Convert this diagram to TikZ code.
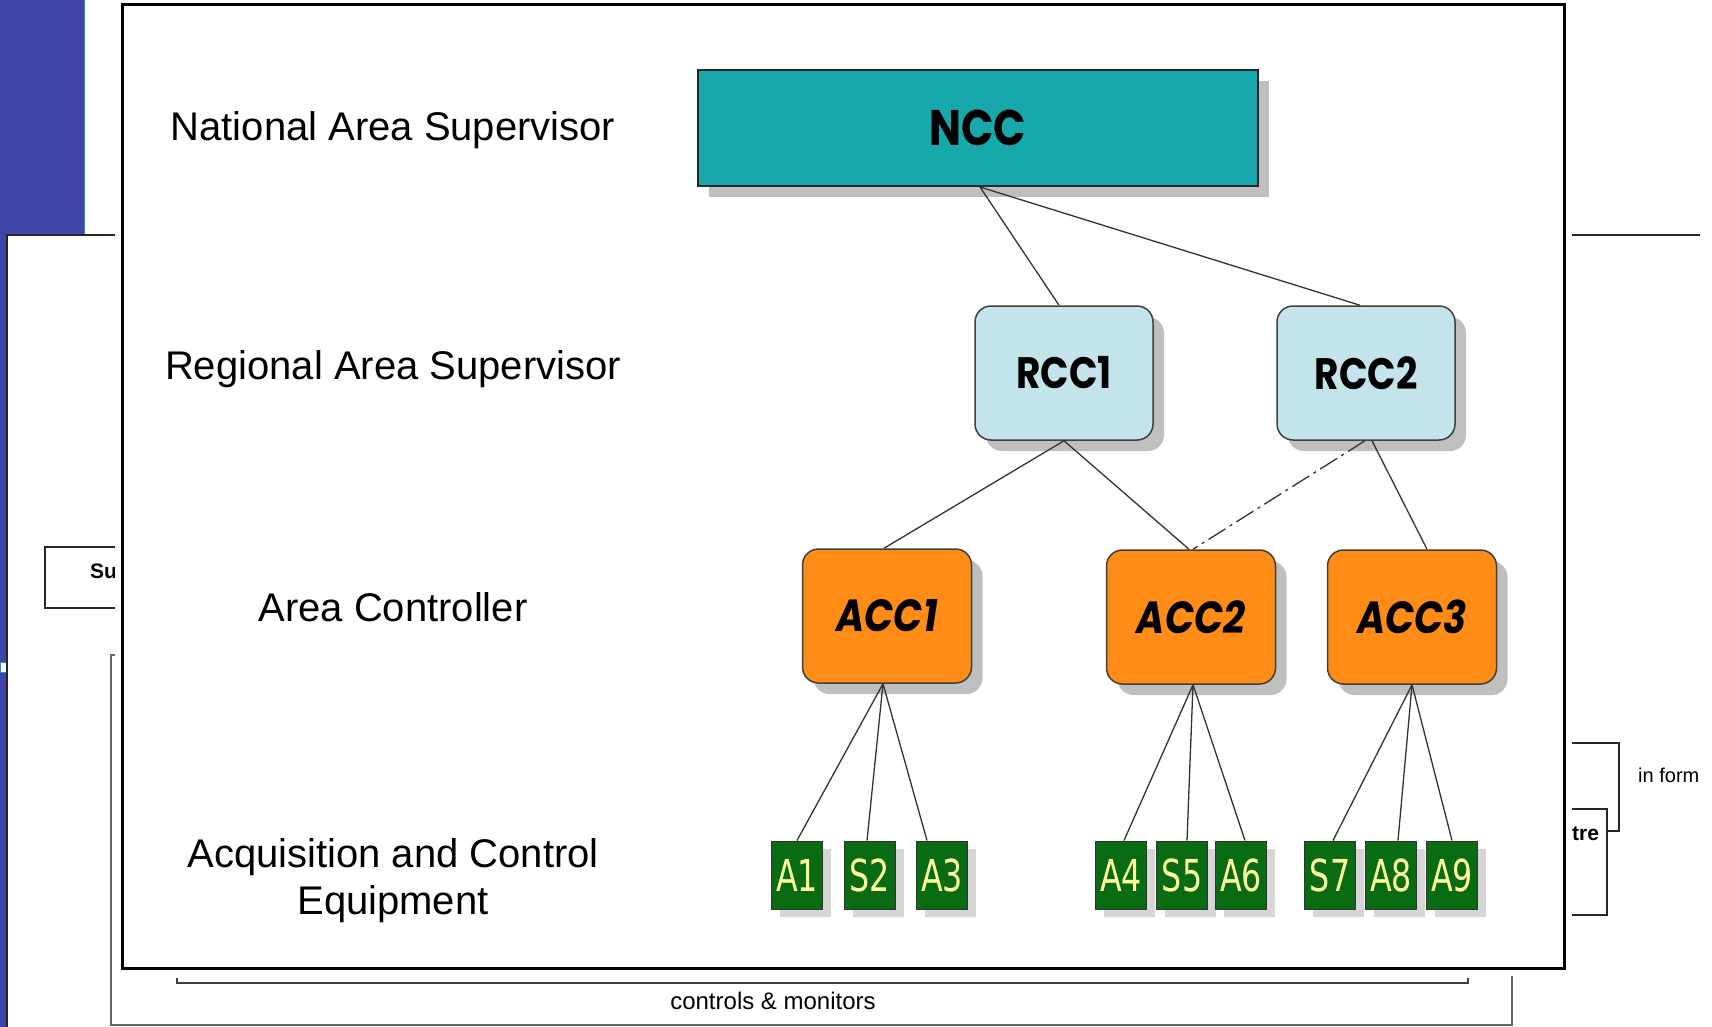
\documentclass[tikz,border=0pt]{standalone}
\usepackage{fontspec}
\setmainfont{Liberation Sans}
\newfontfamily\boxfont{Poppins}[FakeStretch=0.85]
\newfontfamily\tagfont{DejaVu Sans}[FakeStretch=0.72]
\usetikzlibrary{shadows}

\definecolor{slideblue}{RGB}{64,70,168}
\definecolor{slideedge}{RGB}{40,140,220}
\definecolor{nccteal}{RGB}{22,168,170}
\definecolor{rccblue}{RGB}{196,228,236}
\definecolor{accorange}{RGB}{255,140,22}
\definecolor{eqgreen}{RGB}{10,108,18}
\definecolor{eqtext}{RGB}{255,255,160}

\begin{document}
\begin{tikzpicture}[x=1pt,y=-1pt,
  conn/.style={draw=black!80, line width=1.3pt},
  shadowed/.style={drop shadow={shadow xshift=11pt, shadow yshift=-11pt, fill=black!50, opacity=0.5}},
  nccbox/.style={shadowed, draw=black!85, line width=2pt, fill=nccteal,
    minimum width=560pt, minimum height=116pt, inner sep=0pt,
    font=\boxfont\bfseries\fontsize{50}{50}\selectfont},
  rccbox/.style={shadowed, draw=black!75, line width=1.5pt, fill=rccblue,
    rounded corners=16pt, minimum width=178pt, minimum height=134pt, inner sep=0pt,
    font=\boxfont\bfseries\fontsize{44}{44}\selectfont},
  accbox/.style={shadowed, draw=black!75, line width=1.5pt, fill=accorange,
    rounded corners=16pt, minimum width=169pt, minimum height=134pt, inner sep=0pt,
    font=\boxfont\bfseries\itshape\fontsize{45}{45}\selectfont},
  eqbox/.style={drop shadow={shadow xshift=8pt, shadow yshift=-8pt, fill=black!35, opacity=0.45},
    draw=black!80, line width=1pt, fill=eqgreen, minimum width=51pt, minimum height=68pt,
    inner sep=0pt, text=eqtext, font=\tagfont\fontsize{44}{44}\selectfont},
  levellabel/.style={font=\fontsize{40}{47}\selectfont, align=center, anchor=base, inner sep=0pt},
  smalllabel/.style={anchor=base west, inner sep=0pt},
  outline/.style={draw=black!85, line width=2pt}
]
\useasboundingbox (0,0) rectangle (1712,1027);

% slide behind the frame
\fill[slideblue] (0,0) rectangle (84,235);
\fill[slideblue] (0,235) rectangle (7,1027);
\draw[slideedge, line width=1pt] (84.5,0) -- (84.5,235);
\draw[fill=white, draw=slideedge, line width=0.8pt] (0,662) rectangle (6,672);
\draw[outline] (7,1027) -- (7,235) -- (1700,235);
\draw[outline] (118,547) -- (45,547) -- (45,608) -- (118,608);
\node[smalllabel, font=\bfseries\fontsize{21}{21}\selectfont] (su) at (90,578) {Su};
\draw[black!60, line width=2pt] (116,655) -- (111,655) -- (111,1025) -- (1512,1025) -- (1512,970);
\draw[outline] (1560,743) -- (1619,743) -- (1619,831) -- (1607,831);
\draw[outline] (1560,809) -- (1607,809) -- (1607,915) -- (1560,915);
\node[smalllabel, font=\bfseries\fontsize{21}{21}\selectfont] (tre) at (1572,840) {tre};
\node[smalllabel, font=\fontsize{20}{20}\selectfont] (info) at (1638,782) {in form};
\draw[black!75, line width=2.5pt] (177,978) -- (177,983) -- (1468,983) -- (1468,978);
\node[smalllabel, anchor=base, font=\fontsize{24}{24}\selectfont] (cm) at (773,1009) {controls \& monitors};

% framed hierarchy panel
\fill[white] (115,0) rectangle (1572,976);
\draw[line width=3pt] (122,5) rectangle (1564,968);

% level names
\node[levellabel] (lnat) at (393,141) {National Area Supervisor};
\node[levellabel] (lreg) at (393,379) {Regional Area Supervisor};
\node[levellabel] (lacc) at (393,621) {Area Controller};
\node[levellabel] (lequ) at (393,914) {Acquisition and Control\\Equipment};

% control centres
\node[nccbox] (ncc) at (978,128) {NCC};
\node[rccbox] (rcc1) at (1064,373) {RCC1};
\node[rccbox] (rcc2) at (1366,373) {RCC2};
\node[accbox] (acc1) at (887,616) {ACC1};
\node[accbox] (acc2) at (1191,617) {ACC2};
\node[accbox] (acc3) at (1412,617) {ACC3};

% field equipment
\node[eqbox] (a1) at (797,875) {A1};
\node[eqbox] (s2) at (870,875) {S2};
\node[eqbox] (a3) at (942,875) {A3};
\node[eqbox] (a4) at (1121,875) {A4};
\node[eqbox] (s5) at (1182,875) {S5};
\node[eqbox] (a6) at (1241,875) {A6};
\node[eqbox] (s7) at (1330,875) {S7};
\node[eqbox] (a8) at (1391,875) {A8};
\node[eqbox] (a9) at (1452,875) {A9};

% links
\draw[conn] ([xshift=2pt]ncc.south) -- ([xshift=-5pt]rcc1.north);
\draw[conn] ([xshift=2pt]ncc.south) -- ([xshift=-6pt]rcc2.north);
\draw[conn] (rcc1.south) -- ([xshift=-3pt]acc1.north);
\draw[conn] (rcc1.south) -- ([xshift=-2pt]acc2.north);
\draw[conn, dash pattern=on 20pt off 5pt on 3pt off 5pt] ([xshift=-1pt]rcc2.south) -- ([xshift=2pt]acc2.north);
\draw[conn] ([xshift=6pt]rcc2.south) -- ([xshift=15pt]acc3.north);
\draw[conn] ([xshift=-4pt]acc1.south) -- (a1.north);
\draw[conn] ([xshift=-4pt]acc1.south) -- ([xshift=-3pt]s2.north);
\draw[conn] ([xshift=-4pt]acc1.south) -- ([xshift=-15pt]a3.north);
\draw[conn] ([xshift=2pt]acc2.south) -- ([xshift=3pt]a4.north);
\draw[conn] ([xshift=2pt]acc2.south) -- ([xshift=5pt]s5.north);
\draw[conn] ([xshift=2pt]acc2.south) -- ([xshift=4pt]a6.north);
\draw[conn] (acc3.south) -- ([xshift=3pt]s7.north);
\draw[conn] (acc3.south) -- ([xshift=7pt]a8.north);
\draw[conn] (acc3.south) -- (a9.north);
\end{tikzpicture}
\end{document}
